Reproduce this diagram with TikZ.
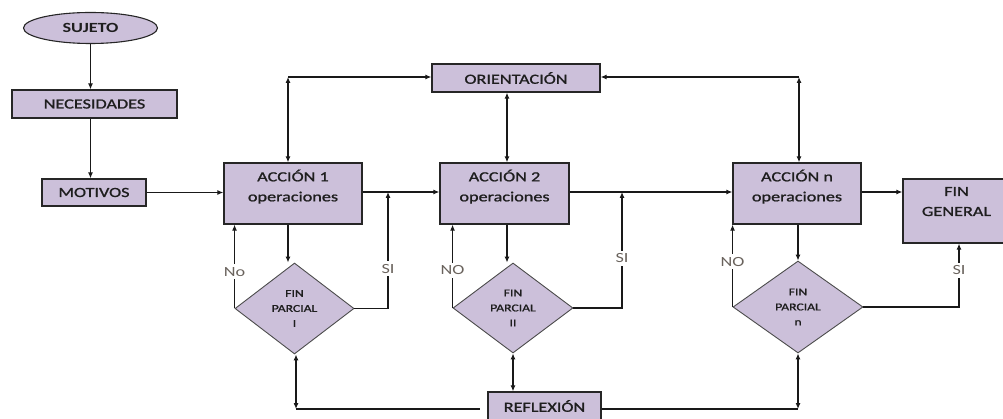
\documentclass[tikz,border=0pt]{standalone}
\usepackage{fontspec}
\setmainfont{Carlito}[FakeStretch=1.3]
\newfontfamily\semib{Carlito}[FakeStretch=1.3,FakeBold=1.2]
\usetikzlibrary{shapes.geometric,arrows.meta}
\definecolor{boxfill}{HTML}{CCC0DA}
\definecolor{labelcol}{RGB}{105,98,92}
\definecolor{txt}{RGB}{30,30,30}
\begin{document}
\begin{tikzpicture}[x=1pt,y=-1pt,
  every node/.style={inner sep=0pt, text=txt},
  boxnode/.style={draw=black!85, line width=1.3pt, fill=boxfill, font=\semib\fontsize{14}{20}\selectfont, align=center},
  twoline/.style={text depth=16pt},
  ellnode/.style={ellipse, draw=black!85, line width=1.1pt, fill=boxfill, font=\fontsize{14}{18}\selectfont\bfseries},
  decnode/.style={diamond, draw=black!70, line width=0.9pt, fill=boxfill, font=\semib\fontsize{10.5}{15}\selectfont, align=center},
  conn/.style={line width=1.1pt, black!90},
  arr/.style={conn, -{Latex[length=6pt,width=5pt]}},
  darr/.style={conn, {Latex[length=6pt,width=5pt]}-{Latex[length=6pt,width=5pt]}},
  lab/.style={fill=white, inner sep=3pt, text=labelcol, font=\fontsize{14}{16}\selectfont}]
\useasboundingbox (0,0) rectangle (1003,419);
% nodes
\node[ellnode, minimum width=134, minimum height=31] (suj) at (90.5,28) {SUJETO};
\node[boxnode, minimum width=165, minimum height=28] (nec) at (94.5,104) {NECESIDADES};
\node[boxnode, minimum width=104, minimum height=27] (mot) at (94,192.5) {MOTIVOS};
\node[boxnode, twoline, minimum width=138, minimum height=61] (a1) at (293,193.5) {ACCIÓN 1\\operaciones};
\node[boxnode, twoline, minimum width=129, minimum height=61] (a2) at (504.5,193.5) {ACCIÓN 2\\operaciones};
\node[boxnode, twoline, minimum width=128, minimum height=61] (an) at (797,193.5) {ACCIÓN n\\operaciones};
\node[boxnode, text depth=19pt, minimum width=107, minimum height=64] (fg) at (956.5,211) {FIN\\GENERAL};
\node[boxnode, minimum width=168, minimum height=28] (ori) at (516,78) {ORIENTACIÓN};
\node[boxnode, minimum width=113, minimum height=28] (refl) at (544.5,406) {REFLEXIÓN};
\node[decnode, minimum width=119, minimum height=91] (d1) at (294.5,308.5) {FIN\\PARCIAL\\I};
\node[decnode, minimum width=120, minimum height=90] (d2) at (513,308) {FIN\\PARCIAL\\II};
\node[decnode, minimum width=130, minimum height=92] (dn) at (798,307) {FIN\\PARCIAL\\n};
% helper coordinates
\coordinate (ol) at (288,77);
\coordinate (or) at (799,77);
\coordinate (s1) at (388,192);
\coordinate (s2) at (622,192);
\coordinate (b1) at (296,409);
\coordinate (bn) at (798,409);
% left column
\draw[arr] (suj.south) -- (suj.south |- nec.north);
\draw[arr] (nec.south -| suj.south) -- (suj.south |- mot.north);
\draw[arr] (mot.east) -- (mot.east -| a1.west);
% main line
\draw[arr] (a1.east |- s1) -- (a2.west |- s1);
\draw[arr] (a2.east |- s1) -- (an.west |- s1);
\draw[arr] (an.east |- s1) -- (fg.west |- s1);
% orientation
\draw[darr] (ol) -- (ol |- a1.north);
\draw[arr] (ol) -- (ori.west |- ol);
\draw[darr] (or) -- (or |- an.north);
\draw[arr] (or) -- (ori.east |- or);
\draw[darr] ([xshift=2.5pt]a2.north) -- ([xshift=2.5pt]a2.north |- ori.south);
% decisions
\draw[arr] (a1.south -| ol) -- (ol |- d1.north);
\draw[arr] (d1.west) -- node[lab, pos=0.44] {No} (d1.west |- a1.south);
\draw[arr] (d1.east) -| node[lab, pos=0.67] {SI} (s1);
\draw[arr] ([xshift=2.5pt]a2.south) -- ([xshift=2.5pt]a2.south |- d2.north);
\draw[arr] (d2.west) -- node[lab, pos=0.45] {NO} (d2.west |- a2.south);
\draw[arr] (d2.east) -| node[lab, pos=0.715] {SI} (s2);
\draw[arr] (an.south -| dn.north) -- (dn.north);
\draw[arr] (dn.west) -- node[lab, pos=0.55] {NO} (dn.west |- an.south);
\draw[arr] (dn.east) -| node[lab, pos=0.79] {SI} ([xshift=2.5pt]fg.south);
% reflection
\draw[darr] (d1.south -| b1) -- (b1);
\draw[conn] (b1) -- ([xshift=-7pt]refl.west |- b1);
\draw[darr] (d2.south) -- (d2.south |- refl.north);
\draw[conn] (refl.east |- bn) -- (bn);
\draw[darr] (dn.south) -- (bn);
\end{tikzpicture}
\end{document}
